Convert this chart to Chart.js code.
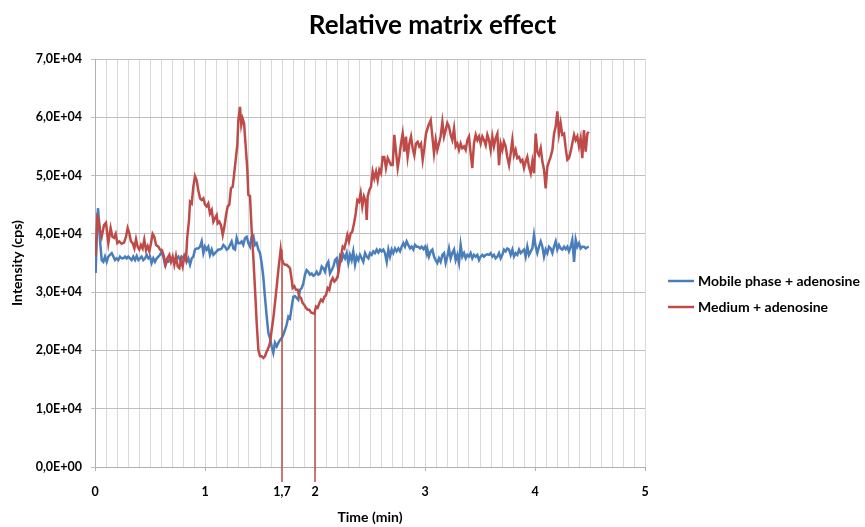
<!DOCTYPE html>
<html>
<head>
<meta charset="utf-8">
<script src="https://cdn.jsdelivr.net/npm/chart.js@4.4.1/dist/chart.umd.min.js"></script>
<style>
    html, body { margin: 0; padding: 0; background: #fff; }
    #chart { display: block; }
</style>
</head>
<body>
<canvas id="chart" width="865" height="527"></canvas>
<script>
// Mobile phase + adenosine (time in min, intensity in cps)
const mobileTime = [
    0.006, 0.015, 0.027, 0.036, 0.045, 0.061, 0.076, 0.091, 0.106, 0.121, 0.136, 0.152, 0.167, 0.182, 0.197, 0.212,
    0.227, 0.242, 0.258, 0.273, 0.288, 0.303, 0.318, 0.333, 0.348, 0.364, 0.379, 0.394, 0.409, 0.424, 0.439, 0.455,
    0.470, 0.485, 0.500, 0.515, 0.530, 0.545, 0.561, 0.576, 0.591, 0.606, 0.621, 0.636, 0.652, 0.667, 0.682, 0.697,
    0.712, 0.727, 0.742, 0.758, 0.773, 0.788, 0.803, 0.818, 0.833, 0.848, 0.864, 0.879, 0.894, 0.909, 0.924, 0.939,
    0.955, 0.970, 0.985, 1.000, 1.015, 1.030, 1.045, 1.061, 1.076, 1.091, 1.106, 1.121, 1.136, 1.152, 1.167, 1.182,
    1.197, 1.212, 1.227, 1.242, 1.258, 1.273, 1.288, 1.303, 1.318, 1.333, 1.348, 1.364, 1.379, 1.394, 1.409, 1.424,
    1.439, 1.455, 1.470, 1.485, 1.500, 1.515, 1.530, 1.545, 1.561, 1.576, 1.591, 1.606, 1.621, 1.636, 1.652, 1.667,
    1.682, 1.697, 1.712, 1.727, 1.742, 1.758, 1.773, 1.788, 1.803, 1.818, 1.833, 1.848, 1.864, 1.879, 1.894, 1.909,
    1.924, 1.939, 1.955, 1.970, 1.985, 2.000, 2.015, 2.030, 2.045, 2.061, 2.076, 2.091, 2.106, 2.121, 2.136, 2.152,
    2.167, 2.182, 2.197, 2.212, 2.227, 2.242, 2.258, 2.273, 2.288, 2.303, 2.318, 2.333, 2.348, 2.364, 2.379, 2.394,
    2.409, 2.424, 2.439, 2.455, 2.470, 2.485, 2.500, 2.515, 2.530, 2.545, 2.561, 2.576, 2.591, 2.606, 2.621, 2.636,
    2.652, 2.667, 2.682, 2.697, 2.712, 2.727, 2.742, 2.758, 2.773, 2.788, 2.803, 2.818, 2.833, 2.848, 2.864, 2.879,
    2.894, 2.909, 2.924, 2.939, 2.955, 2.970, 2.985, 3.000, 3.015, 3.021, 3.036, 3.052, 3.067, 3.082, 3.097, 3.112,
    3.127, 3.142, 3.158, 3.173, 3.188, 3.203, 3.218, 3.233, 3.248, 3.264, 3.279, 3.294, 3.309, 3.324, 3.339, 3.355,
    3.370, 3.385, 3.400, 3.415, 3.430, 3.445, 3.461, 3.476, 3.491, 3.506, 3.521, 3.536, 3.552, 3.567, 3.582, 3.597,
    3.612, 3.627, 3.642, 3.658, 3.673, 3.688, 3.703, 3.718, 3.733, 3.748, 3.764, 3.779, 3.794, 3.809, 3.824, 3.839,
    3.855, 3.870, 3.885, 3.900, 3.915, 3.930, 3.945, 3.961, 3.976, 3.991, 4.006, 4.021, 4.036, 4.052, 4.067, 4.082,
    4.097, 4.112, 4.127, 4.142, 4.158, 4.173, 4.188, 4.203, 4.218, 4.233, 4.248, 4.264, 4.279, 4.294, 4.309, 4.324,
    4.339, 4.355, 4.370, 4.385, 4.400, 4.415, 4.430, 4.445, 4.461, 4.476, 4.488
];
const mobileIntensity = [
    33300, 39000, 44400, 42400, 39000, 35500, 35200, 36100, 35200, 36100, 36400, 36700, 36100, 35500, 35800, 35500,
    36100, 35800, 35800, 36100, 35800, 36100, 35800, 35500, 36100, 35500, 36200, 35500, 35800, 36100, 35500, 35800,
    36400, 35800, 36100, 35000, 35800, 35200, 35800, 36100, 36400, 37000, 36100, 34700, 35200, 35200, 35800, 35500,
    35800, 35200, 35800, 36100, 35500, 36100, 35800, 36400, 35200, 35800, 34700, 35800, 36100, 37300, 37500, 37500,
    37800, 38700, 36700, 37800, 37300, 37800, 36400, 37300, 36400, 36700, 37000, 37300, 37300, 37500, 38100, 37800,
    37300, 37500, 38100, 38700, 37500, 37300, 39300, 38400, 38400, 38700, 38100, 39300, 39500, 38400, 37800, 39500,
    39700, 38100, 38400, 37300, 36700, 35000, 32600, 29200, 25800, 23000, 22100, 20700, 19600, 21300, 20700, 21300,
    21800, 22100, 22700, 23500, 24400, 25800, 25500, 27500, 29200, 29300, 29000, 28700, 30400, 30700, 31500, 33000,
    33800, 33500, 33000, 33200, 32800, 33000, 33500, 33000, 33200, 34400, 34100, 33500, 34700, 35200, 33200, 33800,
    34400, 35500, 35800, 33800, 36100, 35500, 36400, 35800, 36700, 35000, 36400, 35500, 37000, 34700, 36100, 35500,
    36400, 35800, 35200, 36700, 36100, 35800, 36700, 36400, 37000, 36700, 37300, 36800, 37300, 37000, 37300, 36700,
    35200, 37300, 36100, 37300, 36700, 37500, 37000, 37500, 37000, 37800, 38400, 37800, 38700, 38100, 37500, 37800,
    37300, 38100, 37800, 37800, 37500, 37800, 37400, 37800, 36700, 37400, 36100, 37000, 37300, 36100, 35500, 35000,
    35800, 35200, 36400, 36700, 35000, 36100, 37500, 35800, 36700, 37300, 35500, 36400, 35000, 38100, 36100, 36700,
    35800, 36400, 36100, 36700, 35800, 36400, 36100, 36400, 35500, 36100, 36400, 36100, 36400, 36500, 36400, 36700,
    36100, 36400, 35800, 36100, 36700, 35800, 36400, 37300, 37000, 37500, 37300, 36400, 37300, 36100, 36700, 36400,
    37300, 36700, 37000, 37300, 36100, 37800, 36400, 37000, 37500, 39800, 37800, 36700, 37800, 38700, 37800, 36100,
    37300, 36700, 37800, 37500, 36700, 37800, 38700, 37300, 38100, 37500, 37300, 37800, 37400, 37800, 37000, 37800,
    39000, 35200, 39000, 37800, 38400, 37500, 37800, 37800, 37500, 37700, 37800
];

// Medium + adenosine
const mediumTime = [
    0.006, 0.021, 0.030, 0.045, 0.061, 0.082, 0.100, 0.121, 0.142, 0.158, 0.173, 0.188, 0.203, 0.221, 0.242, 0.264,
    0.282, 0.297, 0.312, 0.327, 0.342, 0.358, 0.373, 0.388, 0.403, 0.418, 0.433, 0.448, 0.464, 0.479, 0.494, 0.509,
    0.524, 0.539, 0.555, 0.576, 0.591, 0.609, 0.627, 0.642, 0.658, 0.676, 0.691, 0.706, 0.721, 0.736, 0.752, 0.767,
    0.782, 0.797, 0.812, 0.827, 0.839, 0.855, 0.864, 0.879, 0.894, 0.909, 0.924, 0.939, 0.955, 0.970, 0.985, 1.000,
    1.015, 1.030, 1.045, 1.061, 1.076, 1.091, 1.106, 1.115, 1.130, 1.145, 1.161, 1.176, 1.191, 1.206, 1.221, 1.236,
    1.252, 1.264, 1.279, 1.294, 1.303, 1.318, 1.330, 1.342, 1.355, 1.370, 1.385, 1.394, 1.409, 1.424, 1.439, 1.455,
    1.470, 1.485, 1.500, 1.515, 1.530, 1.545, 1.561, 1.576, 1.591, 1.606, 1.621, 1.636, 1.652, 1.667, 1.688, 1.697,
    1.712, 1.727, 1.742, 1.758, 1.773, 1.788, 1.797, 1.812, 1.827, 1.842, 1.858, 1.873, 1.888, 1.903, 1.918, 1.933,
    1.948, 1.964, 1.979, 1.994, 2.009, 2.024, 2.039, 2.055, 2.070, 2.085, 2.100, 2.115, 2.130, 2.145, 2.161, 2.176,
    2.191, 2.206, 2.221, 2.236, 2.252, 2.267, 2.282, 2.294, 2.309, 2.324, 2.339, 2.355, 2.370, 2.385, 2.400, 2.415,
    2.430, 2.445, 2.461, 2.470, 2.479, 2.494, 2.509, 2.524, 2.539, 2.555, 2.570, 2.585, 2.600, 2.615, 2.630, 2.645,
    2.661, 2.676, 2.691, 2.706, 2.721, 2.736, 2.752, 2.767, 2.782, 2.797, 2.812, 2.827, 2.842, 2.858, 2.873, 2.888,
    2.903, 2.918, 2.933, 2.948, 2.964, 2.979, 2.994, 3.009, 3.030, 3.052, 3.067, 3.082, 3.097, 3.112, 3.127, 3.142,
    3.158, 3.173, 3.188, 3.203, 3.218, 3.233, 3.248, 3.264, 3.279, 3.294, 3.309, 3.324, 3.339, 3.355, 3.370, 3.385,
    3.400, 3.415, 3.430, 3.445, 3.461, 3.476, 3.491, 3.506, 3.521, 3.536, 3.552, 3.567, 3.582, 3.597, 3.612, 3.627,
    3.642, 3.658, 3.673, 3.688, 3.703, 3.718, 3.733, 3.748, 3.764, 3.779, 3.794, 3.809, 3.824, 3.839, 3.855, 3.870,
    3.885, 3.900, 3.915, 3.930, 3.945, 3.961, 3.976, 3.991, 4.006, 4.021, 4.036, 4.052, 4.067, 4.082, 4.097, 4.112,
    4.127, 4.142, 4.158, 4.173, 4.188, 4.203, 4.218, 4.233, 4.248, 4.264, 4.279, 4.294, 4.309, 4.324, 4.339, 4.355,
    4.370, 4.385, 4.400, 4.415, 4.430, 4.445, 4.461, 4.476, 4.488
];
const mediumIntensity = [
    36100, 43000, 42700, 40700, 39500, 41500, 41900, 38400, 41000, 39500, 39300, 40000, 38400, 38700, 38300, 38500,
    39500, 41000, 40100, 38700, 38400, 37500, 39100, 37800, 37300, 38100, 37500, 39000, 37200, 37900, 37000, 38400,
    40000, 39500, 38100, 37800, 37300, 37200, 36100, 34700, 35800, 36400, 35200, 36100, 34700, 36200, 34400, 34100,
    35500, 34400, 36100, 35500, 39500, 42400, 45500, 45200, 48100, 49900, 49200, 47500, 46100, 45800, 46100, 45000,
    44700, 45200, 43500, 44100, 42100, 42700, 43200, 41800, 42100, 41500, 39800, 41200, 43200, 44700, 45000, 47800,
    48100, 50100, 52700, 55300, 59500, 61800, 58700, 59800, 59000, 55000, 51000, 46700, 46500, 40700, 36100, 30400,
    24700, 20100, 19000, 19000, 18700, 19000, 19800, 20400, 21300, 23500, 25500, 28100, 31000, 33800, 37300, 35800,
    35000, 34700, 34700, 34400, 34100, 32100, 30700, 31000, 30400, 30400, 29200, 29000, 28100, 27800, 27300, 27000,
    27000, 26500, 26400, 26300, 27500, 27300, 28100, 28700, 28400, 29200, 29500, 30700, 30400, 31800, 32400, 31800,
    32100, 32700, 34400, 36100, 37800, 37500, 38700, 39800, 38700, 40100, 40400, 41800, 43500, 45800, 45500, 47000,
    44700, 46400, 45500, 42400, 46400, 47500, 48100, 50700, 49500, 50700, 49200, 51000, 50400, 53200, 53200, 51300,
    53000, 52400, 51800, 51800, 57000, 54100, 51300, 53200, 55500, 57200, 54100, 56700, 53200, 55500, 56700, 54700,
    53500, 55500, 55800, 55000, 55500, 52700, 54700, 57200, 58500, 59500, 56700, 53800, 56100, 54400, 55500, 56700,
    59200, 56700, 57800, 59000, 58400, 57000, 56100, 58100, 55000, 55500, 54400, 55500, 54700, 55000, 54400, 56100,
    56700, 53800, 51300, 55500, 57000, 56100, 56700, 55500, 56700, 56100, 55200, 57000, 56100, 54400, 56700, 55000,
    56400, 57200, 51800, 55500, 54400, 55800, 55000, 53200, 51800, 53800, 56100, 53500, 54400, 53000, 53200, 52400,
    52700, 51300, 52400, 53200, 51500, 50400, 52400, 50400, 57200, 54100, 53500, 54700, 52400, 51000, 47800, 51500,
    52400, 53200, 54400, 57200, 58400, 61000, 57200, 59000, 57000, 57200, 54700, 52700, 53000, 54100, 55500, 57000,
    56100, 56700, 55000, 56400, 53000, 57800, 54100, 57200, 57500
];

// drop lines marked on the time axis
const dropTime = [1.7, 2];
const dropIntensity = [37300, 26600];

const chartTitle = 'Relative matrix effect';
const seriesLabels = ['Mobile phase + adenosine', 'Medium + adenosine'];
const seriesColors = ['#4a7ebb', '#be4b48'];

const FONT = 'Lato, "DejaVu Sans", sans-serif';
const isWhole = v => Math.abs(v - Math.round(v)) < 1e-6;
const toPoints = (xs, ys) => xs.map((x, i) => ({ x, y: ys[i] }));

// vertical lines from the curve down past the axis
const dropLinesPlugin = {
    id: 'dropLines',
    afterDatasetsDraw(chart) {
        const { ctx, chartArea, scales: { x, y } } = chart;
        ctx.save();
        ctx.strokeStyle = seriesColors[1];
        ctx.lineWidth = 1.5;
        dropTime.forEach((t, i) => {
            const px = x.getPixelForValue(t);
            ctx.beginPath();
            ctx.moveTo(px, y.getPixelForValue(dropIntensity[i]));
            ctx.lineTo(px, chartArea.bottom + 15);
            ctx.stroke();
        });
        ctx.restore();
    }
};

// title centred on the whole canvas + Excel style legend on the right
const overlayPlugin = {
    id: 'overlay',
    afterDraw(chart) {
        const { ctx, chartArea, width } = chart;
        ctx.save();
        ctx.fillStyle = '#000';
        ctx.textBaseline = 'middle';
        ctx.textAlign = 'center';
        ctx.font = 'bold 26px ' + FONT;
        ctx.fillText(chartTitle, width / 2, 26);

        const left = chartArea.right + 23;
        ctx.textAlign = 'left';
        ctx.font = 'bold 14px ' + FONT;
        chart.data.datasets.forEach((ds, i) => {
            const rowY = 281 + i * 26;
            ctx.strokeStyle = ds.borderColor;
            ctx.lineWidth = 2.5;
            ctx.beginPath();
            ctx.moveTo(left, rowY);
            ctx.lineTo(left + 26, rowY);
            ctx.stroke();
            ctx.fillText(ds.label, left + 30, rowY);
        });
        ctx.restore();
    }
};

Chart.defaults.font.family = FONT;
Chart.defaults.color = '#000';

new Chart(document.getElementById('chart'), {
    type: 'line',
    data: {
        datasets: [
            {
                label: seriesLabels[0],
                data: toPoints(mobileTime, mobileIntensity),
                borderColor: seriesColors[0],
                backgroundColor: seriesColors[0],
                borderWidth: 2.5,
                pointRadius: 0,
                tension: 0,
                order: 1
            },
            {
                label: seriesLabels[1],
                data: toPoints(mediumTime, mediumIntensity),
                borderColor: seriesColors[1],
                backgroundColor: seriesColors[1],
                borderWidth: 2.5,
                pointRadius: 0,
                tension: 0,
                order: 0
            }
        ]
    },
    options: {
        responsive: false,
        animation: false,
        layout: { padding: { top: 59, right: 220 } },
        plugins: {
            legend: { display: false },
            tooltip: { enabled: false },
            title: { display: false }
        },
        scales: {
            x: {
                type: 'linear',
                min: 0,
                max: 5,
                afterFit: s => { s.height = 60; },
                ticks: {
                    stepSize: 0.1,
                    autoSkip: false,
                    maxRotation: 0,
                    padding: 13,
                    font: { size: 12.5, weight: 'bold' },
                    callback: v => {
                        if (isWhole(v)) return String(Math.round(v));
                        if (Math.abs(v - 1.7) < 1e-6) return '1,7';
                        return '';
                    }
                },
                grid: {
                    color: '#d9d9d9',
                    tickLength: 4,
                    tickColor: c => (c.tick && isWhole(c.tick.value)) ? '#b0b0b0' : 'rgba(0,0,0,0)'
                },
                border: { color: '#b0b0b0' },
                title: {
                    display: true,
                    text: 'Time (min)',
                    font: { size: 14, weight: 'bold' },
                    padding: { top: 0, bottom: 1 }
                }
            },
            y: {
                min: 0,
                max: 70000,
                afterFit: s => { s.width = 95; },
                ticks: {
                    stepSize: 10000,
                    padding: 9,
                    font: { size: 12.5, weight: 'bold' },
                    callback: v => v === 0 ? '0,0E+00' : (v / 10000).toFixed(1).replace('.', ',') + 'E+04'
                },
                grid: { color: '#bfbfbf', tickLength: 4 },
                border: { color: '#b0b0b0' },
                title: {
                    display: true,
                    text: 'Intensity (cps)',
                    font: { size: 14, weight: 'bold' },
                    padding: { top: 9, bottom: 0 }
                }
            }
        }
    },
    plugins: [dropLinesPlugin, overlayPlugin]
});
</script>
</body>
</html>
